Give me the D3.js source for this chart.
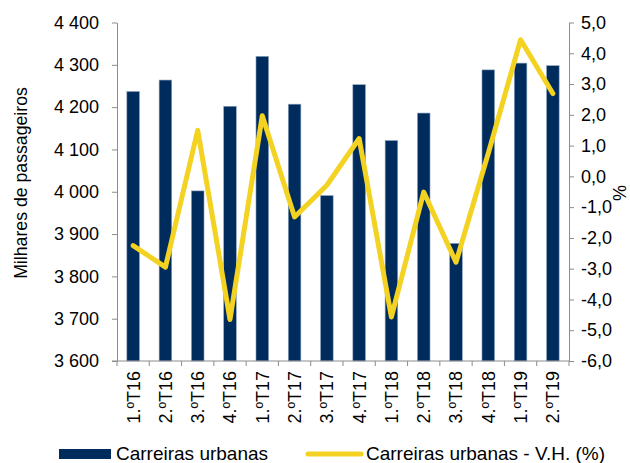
<!DOCTYPE html>
<html>
<head>
<meta charset="utf-8">
<script src="https://cdn.jsdelivr.net/npm/d3@7"></script>
<style>
  body { margin: 0; background: #fff; }
  svg { font-family: "Liberation Sans", Arial, sans-serif; }
  .axis path, .axis line { stroke: #8c8c8c; }
  .axis text { fill: #000; font-size: 18px; }
</style>
</head>
<body>
<svg width="630" height="463"></svg>
<script>
var categories = ["1.ºT16", "2.ºT16", "3.ºT16", "4.ºT16", "1.ºT17", "2.ºT17", "3.ºT17",
                  "4.ºT17", "1.ºT18", "2.ºT18", "3.ºT18", "4.ºT18", "1.ºT19", "2.ºT19"];
var passengers = [4237, 4264, 4002, 4202, 4320, 4207, 3991, 4253, 4121, 4186, 3878, 4288, 4304, 4298];
var variation = [-2.25, -2.95, 1.5, -4.65, 1.97, -1.32, -0.29, 1.23, -4.57, -0.51, -2.79, 0.75, 4.44, 2.69];
var leftTicks = [3600, 3700, 3800, 3900, 4000, 4100, 4200, 4300, 4400];
var rightTicks = [-6, -5, -4, -3, -2, -1, 0, 1, 2, 3, 4, 5];

var svg = d3.select("svg");
var plotLeft = 117, plotRight = 569, plotTop = 22.5, plotBottom = 361;

var x = d3.scaleBand()
    .domain(categories)
    .range([plotLeft, plotRight])
    .paddingInner(0.61)
    .paddingOuter(0.305);
var y = d3.scaleLinear().domain([3600, 4400]).range([plotBottom, plotTop]);
var y2 = d3.scaleLinear().domain([-6, 5]).range([plotBottom, plotTop]);

// bars
svg.append("g").selectAll("rect")
    .data(passengers)
    .enter().append("rect")
    .attr("x", function (d, i) { return x(categories[i]); })
    .attr("y", function (d) { return y(d); })
    .attr("width", x.bandwidth())
    .attr("height", function (d) { return plotBottom - y(d); })
    .attr("fill", "#002c5d")
    .attr("stroke", "#8ea3bf")
    .attr("stroke-width", 0.6);

// left axis
svg.append("g")
    .attr("class", "axis")
    .attr("transform", "translate(" + plotLeft + ",0)")
    .call(d3.axisLeft(y).tickValues(leftTicks).tickSize(5).tickSizeOuter(0).tickPadding(13)
        .tickFormat(function (d) { return d3.format(",")(d).replace(/,/g, " "); }));

// right axis
svg.append("g")
    .attr("class", "axis")
    .attr("transform", "translate(" + plotRight + ",0)")
    .call(d3.axisRight(y2).tickValues(rightTicks).tickSize(5).tickSizeOuter(0).tickPadding(7)
        .tickFormat(function (d) { return d3.format(".1f")(d).replace(".", ",").replace("−", "-"); }));

// x axis
var gx = svg.append("g")
    .attr("class", "axis")
    .attr("transform", "translate(0," + plotBottom + ")")
    .call(d3.axisBottom(x).tickSize(0).tickSizeOuter(0));
gx.select(".domain").attr("d", "M" + (plotLeft - 5) + ",0H" + plotRight);
gx.selectAll(".tick text")
    .attr("transform", "rotate(-90)")
    .attr("text-anchor", "end")
    .attr("x", -10)
    .attr("y", 0)
    .attr("dy", "0.36em");
gx.selectAll(".boundary")
    .data(d3.range(categories.length + 1))
    .enter().append("line")
    .attr("class", "boundary")
    .attr("x1", function (i) { return plotLeft + i * x.step(); })
    .attr("x2", function (i) { return plotLeft + i * x.step(); })
    .attr("y1", 0)
    .attr("y2", 5);

// line
var line = d3.line()
    .x(function (d, i) { return x(categories[i]) + x.bandwidth() / 2; })
    .y(function (d) { return y2(d); });
svg.append("path")
    .datum(variation)
    .attr("d", line)
    .attr("fill", "none")
    .attr("stroke", "#f4d222")
    .attr("stroke-width", 5)
    .attr("stroke-linejoin", "round")
    .attr("stroke-linecap", "round");

// axis titles
svg.append("text")
    .attr("transform", "translate(27,183) rotate(-90)")
    .attr("text-anchor", "middle")
    .attr("font-size", 17.7)
    .text("Milhares de passageiros");
svg.append("text")
    .attr("transform", "translate(613,193) rotate(90)")
    .attr("text-anchor", "middle")
    .attr("font-size", 18)
    .text("%");

// legend
var lg = svg.append("g").attr("font-size", 19);
lg.append("rect").attr("x", 59).attr("y", 449).attr("width", 52).attr("height", 10).attr("fill", "#002c5d");
lg.append("text").attr("x", 116).attr("y", 460).text("Carreiras urbanas");
lg.append("line").attr("x1", 308).attr("x2", 361).attr("y1", 454).attr("y2", 454)
    .attr("stroke", "#f4d222").attr("stroke-width", 5).attr("stroke-linecap", "round");
lg.append("text").attr("x", 366).attr("y", 460).text("Carreiras urbanas - V.H. (%)");
</script>
</body>
</html>
